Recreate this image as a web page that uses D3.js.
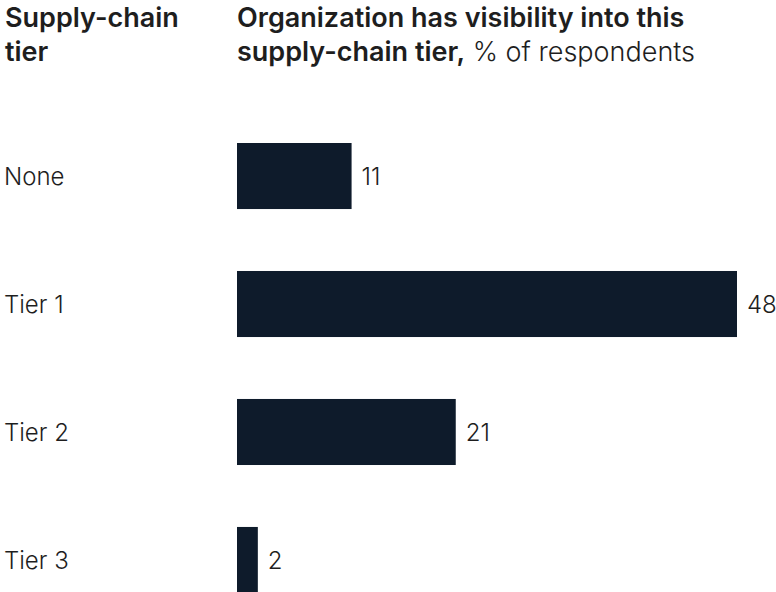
<!DOCTYPE html>
<html>
<head>
<meta charset="utf-8">
<script src="https://cdn.jsdelivr.net/npm/d3@7"></script>
<style>
  html, body { margin: 0; padding: 0; background: #ffffff; }
  svg { display: block; font-family: Inter, "Liberation Sans", sans-serif; }
</style>
</head>
<body>
<svg id="chart" width="776" height="592"></svg>
<script>
// Share of respondents with visibility into each supply-chain tier
const categories = ["None", "Tier 1", "Tier 2", "Tier 3"];
const values = [11, 48, 21, 2];

const svg = d3.select("#chart");
const barColor = "#0e1b2b";
const textColor = "#1e1e1e";

const left = 237;
const x = d3.scaleLinear().domain([0, 48]).range([left, 737]);
const y = d3.scaleBand().domain(categories).range([143, 593]).paddingInner(0.484).paddingOuter(0);

// Column headers
const h1 = svg.append("text").attr("x", 5).attr("y", 27)
  .attr("font-size", 27).attr("font-weight", 600).attr("fill", textColor);
h1.append("tspan").attr("x", 5).text("Supply-chain");
h1.append("tspan").attr("x", 5).attr("dy", 34).text("tier");

const h2 = svg.append("text").attr("x", left).attr("y", 27)
  .attr("font-size", 27).attr("fill", textColor);
h2.append("tspan").attr("x", left).attr("font-weight", 600).text("Organization has visibility into this");
const line2 = h2.append("tspan").attr("x", left).attr("dy", 34);
line2.append("tspan").attr("font-weight", 600).text("supply-chain tier,");
line2.append("tspan").attr("font-weight", 300).text(" % of respondents");

// Bars
svg.selectAll("rect.bar").data(categories).join("rect")
  .attr("class", "bar")
  .attr("x", x(0))
  .attr("y", d => y(d))
  .attr("width", (d, i) => x(values[i]) - x(0))
  .attr("height", y.bandwidth())
  .attr("fill", barColor);

// Category labels
svg.selectAll("text.cat").data(categories).join("text")
  .attr("class", "cat")
  .attr("x", 4)
  .attr("y", d => y(d) + y.bandwidth() / 2)
  .attr("dy", "0.38em")
  .attr("font-size", 24).attr("font-weight", 300).attr("fill", textColor)
  .text(d => d);

// Value labels
svg.selectAll("text.val").data(categories).join("text")
  .attr("class", "val")
  .attr("x", (d, i) => x(values[i]) + 10)
  .attr("y", d => y(d) + y.bandwidth() / 2)
  .attr("dy", "0.38em")
  .attr("font-size", 24).attr("font-weight", 300).attr("fill", textColor)
  .text((d, i) => values[i]);
</script>
</body>
</html>
